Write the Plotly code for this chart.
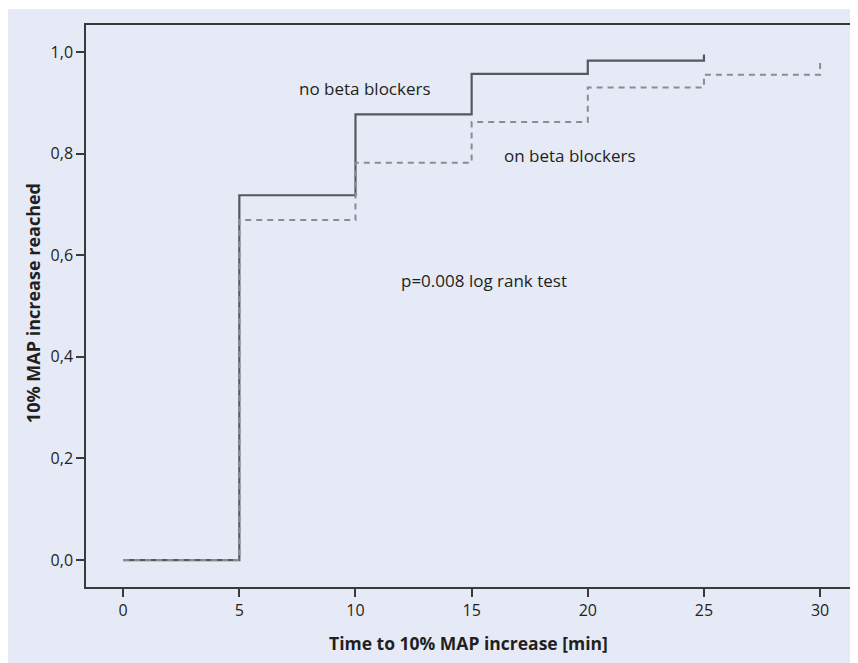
import plotly.graph_objects as go

# Data (Kaplan-Meier style step curves)
time_no_bb = [0, 5, 10, 15, 20, 25, 25]
val_no_bb = [0.0, 0.718, 0.877, 0.957, 0.983, 0.983, 0.995]
time_on_bb = [0, 5, 10, 15, 20, 25, 30, 30]
val_on_bb = [0.0, 0.669, 0.782, 0.862, 0.930, 0.955, 0.955, 0.978]

x_ticks = [0, 5, 10, 15, 20, 25, 30]
y_ticks = [0.0, 0.2, 0.4, 0.6, 0.8, 1.0]
y_tick_labels = ["0,0", "0,2", "0,4", "0,6", "0,8", "1,0"]

FONT = "Open Sans, Noto Sans, sans-serif"
BG = "#e6eaf6"
TXT = "#231f20"

fig = go.Figure()
fig.add_trace(go.Scatter(x=time_no_bb, y=val_no_bb, mode="lines",
                         line=dict(shape="hv", color="#55595e", width=2.2),
                         showlegend=False, hoverinfo="skip"))
fig.add_trace(go.Scatter(x=time_on_bb, y=val_on_bb, mode="lines",
                         line=dict(shape="hv", color="#8a8c90", width=2, dash="6px,5px"),
                         showlegend=False, hoverinfo="skip"))

fig.add_shape(type="rect", xref="paper", yref="paper", x0=-0.103, x1=1.02,
              y0=-0.15, y1=1.0285, fillcolor=BG, line=dict(width=0), layer="below")

fig.add_annotation(x=10.43, y=0.929, text="no beta blockers", showarrow=False,
                   font=dict(family=FONT, size=17, color=TXT))
fig.add_annotation(x=19.23, y=0.797, text="on beta blockers", showarrow=False,
                   font=dict(family=FONT, size=17, color=TXT))
fig.add_annotation(x=15.54, y=0.551, text="p=0.008 log rank test", showarrow=False,
                   font=dict(family=FONT, size=17, color=TXT))

fig.add_annotation(xref="paper", yref="paper", x=(470 - 86) / 767, y=(587 - 643) / 562,
                   xanchor="center", yanchor="middle",
                   text="<b>Time to 10% MAP increase [min]</b>", showarrow=False,
                   font=dict(family=FONT, size=17.5, color=TXT))
fig.add_annotation(xref="paper", yref="paper", x=(33 - 86) / 767, y=(587 - 303) / 562,
                   xanchor="center", yanchor="middle",
                   text="<b>10% MAP increase reached</b>", showarrow=False, textangle=-90,
                   font=dict(family=FONT, size=18, color=TXT))

axis_common = dict(showgrid=False, zeroline=False, showline=True, linecolor="#3a3a3a",
                   linewidth=1.5, mirror=True, ticks="outside", ticklen=8, tickwidth=1.5,
                   tickcolor="#3a3a3a", tickfont=dict(family=FONT, size=16, color=TXT))

fig.update_xaxes(range=[-1.6, 31.33], tickvals=x_ticks, **axis_common)
fig.update_yaxes(range=[-0.053, 1.053], tickvals=y_ticks, ticktext=y_tick_labels, **axis_common)

# page body has an 8px margin, so the figure is sized/placed to compensate
fig.update_layout(width=850, height=655, margin=dict(l=78, r=5, t=17, b=76),
                  paper_bgcolor="white", plot_bgcolor=BG)

fig.write_html("out.html")
